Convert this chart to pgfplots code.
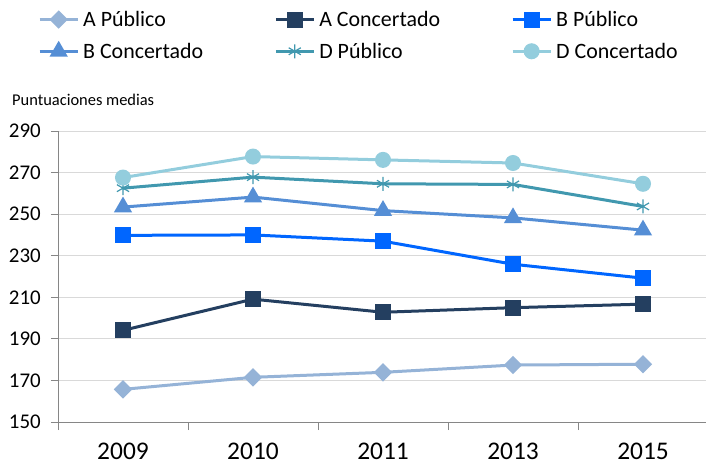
\documentclass[border=0pt]{standalone}
\usepackage{fontspec}
\setmainfont{Carlito}
\usepackage{pgfplots}
\pgfplotsset{compat=1.18}
\definecolor{cAP}{HTML}{95B3D7}
\definecolor{cAC}{HTML}{243F60}
\definecolor{cBP}{HTML}{0066FF}
\definecolor{cBC}{HTML}{558ED5}
\definecolor{cDP}{HTML}{4198AF}
\definecolor{cDC}{HTML}{93CDDD}
\definecolor{gridc}{HTML}{D9D9D9}
\definecolor{axc}{HTML}{868686}
\begin{document}
\begin{tikzpicture}
\path[use as bounding box] (-58bp,-44bp) rectangle (648bp,422bp);
\begin{axis}[
  at={(0,0)}, anchor=south west,
  width=650bp, height=291bp, scale only axis,
  xmin=-0.5, xmax=4.5, ymin=150, ymax=290,
  ytick={150,170,...,290},
  xtick={0,1,2,3,4},
  xticklabels={2009,2010,2011,2013,2015},
  minor xtick={-0.5,0.5,1.5,2.5,3.5,4.5},
  axis lines*=left,
  axis line style={draw=axc, line width=0.8bp, -},
  tick align=outside,
  major tick length=7bp, minor tick length=8bp,
  major x tick style={draw=none},
  minor x tick style={draw=axc, line width=0.8bp},
  major y tick style={draw=axc, line width=0.8bp},
  ymajorgrids, grid style={draw=gridc, line width=0.8bp},
  xticklabel style={font=\fontsize{25.5}{30}\selectfont, inner sep=0pt, yshift=-14bp},
  yticklabel style={font=\fontsize{21}{25}\selectfont, inner sep=0pt, xshift=-10bp},
  /pgf/number format/assume math mode=true,
  legend columns=3,
  legend cell align=left,
  legend style={at={(0,1)}, anchor=north west, xshift=-23bp, yshift=123bp,
    draw=none, fill=none, font=\fontsize{22}{26}\selectfont,
    nodes={inner sep=1bp}, row sep=13bp, column sep=3bp,
    /tikz/every even column/.append style={column sep=70bp}},
  legend image code/.code={\draw[#1, mark repeat=2, mark phase=2] plot coordinates {(0bp,0bp) (19bp,0bp) (38bp,0bp)};},
  every axis plot/.append style={line width=3bp},
]
\addplot[cAP, mark=square*, mark size=5bp, mark options={rotate=45}] coordinates {(0,165.7) (1,171.5) (2,173.9) (3,177.4) (4,177.8)};
\addlegendentry{A Público}
\addplot[cAC, mark=square*, mark size=6.5bp] coordinates {(0,194.1) (1,209.1) (2,202.8) (3,205.0) (4,206.7)};
\addlegendentry{A Concertado}
\addplot[cBP, mark=square*, mark size=6.5bp] coordinates {(0,239.8) (1,240.0) (2,237.0) (3,225.9) (4,219.2)};
\addlegendentry{B Público}
\addplot[cBC, mark=triangle*, mark size=7.5bp] coordinates {(0,253.4) (1,258.2) (2,251.7) (3,248.2) (4,242.3)};
\addlegendentry{B Concertado}
\addplot[cDP, mark=asterisk, mark size=7bp, mark options={line width=1.2bp}] coordinates {(0,262.5) (1,267.8) (2,264.6) (3,264.3) (4,253.7)};
\addlegendentry{D Público}
\addplot[cDC, mark=*, mark size=6.5bp] coordinates {(0,267.6) (1,277.7) (2,276.1) (3,274.6) (4,264.6)};
\addlegendentry{D Concertado}
\end{axis}
\node[anchor=west, inner sep=0pt, font=\fontsize{16.5}{19}\selectfont] at (-46bp,322bp) {Puntuaciones medias};
\end{tikzpicture}
\end{document}
